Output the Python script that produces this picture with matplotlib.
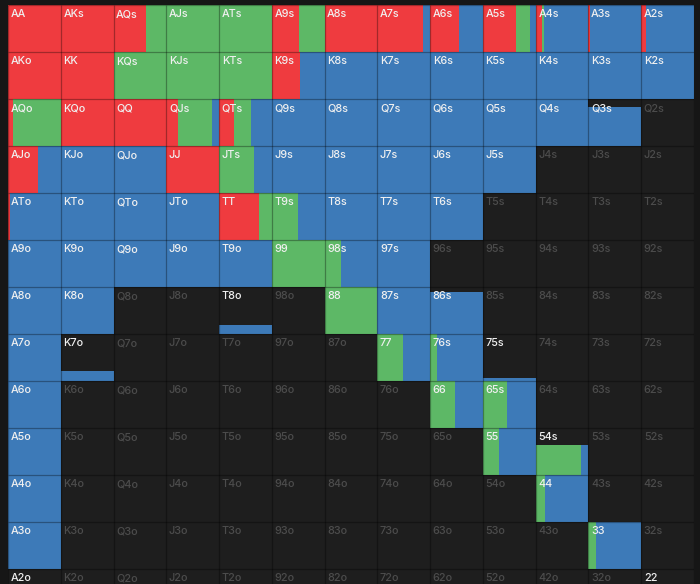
import matplotlib
matplotlib.use("Agg")
import matplotlib.pyplot as plt
from matplotlib.patches import Rectangle

RANKS = "AKQJT98765432"

# fraction of each cell's width for each action (left to right: raise, call, fold)
RAISE = [
    [1, 1, .62, 0, 0, .52, 1, .87, .55, .62, .12, .02, .09],
    [1, 1, 0, 0, 0, .53, 0, 0, 0, 0, 0, 0, 0],
    [.09, 1, 1, .22, .29, 0, 0, 0, 0, 0, 0, 0, 0],
    [.56, 0, 0, 1, 0, 0, 0, 0, 0, 0, 0, 0, 0],
    [.04, 0, 0, 0, .76, 0, 0, 0, 0, 0, 0, 0, 0],
    [0, 0, 0, 0, 0, .01, 0, 0, 0, 0, 0, 0, 0],
    [0, 0, 0, 0, 0, 0, 0, 0, 0, 0, 0, 0, 0],
    [0, 0, 0, 0, 0, 0, 0, 0, 0, 0, 0, 0, 0],
    [0, 0, 0, 0, 0, 0, 0, 0, 0, 0, 0, 0, 0],
    [0, 0, 0, 0, 0, 0, 0, 0, 0, .01, 0, 0, 0],
    [0, 0, 0, 0, 0, 0, 0, 0, 0, 0, 0, 0, 0],
    [0, 0, 0, 0, 0, 0, 0, 0, 0, 0, 0, 0, 0],
    [0, 0, 0, 0, 0, 0, 0, 0, 0, 0, 0, 0, 0],
]
CALL = [
    [0, 0, .38, 1, 1, .48, 0, 0, 0, .27, .04, 0, 0],
    [0, 0, 1, 1, 1, 0, 0, 0, 0, 0, 0, 0, 0],
    [.91, 0, 0, .64, .32, 0, 0, 0, 0, 0, 0, 0, 0],
    [0, 0, 0, 0, .66, 0, 0, 0, 0, 0, 0, 0, 0],
    [0, 0, 0, 0, .24, .49, 0, 0, 0, 0, 0, 0, 0],
    [0, 0, 0, 0, 0, .99, .31, 0, 0, 0, 0, 0, 0],
    [0, 0, 0, 0, 0, 0, 1, 0, 0, 0, 0, 0, 0],
    [0, 0, 0, 0, 0, 0, 0, .49, .13, 0, 0, 0, 0],
    [0, 0, 0, 0, 0, 0, 0, 0, .48, .46, 0, 0, 0],
    [0, 0, 0, 0, 0, 0, 0, 0, 0, .29, .85, 0, 0],
    [0, 0, 0, 0, 0, 0, 0, 0, 0, 0, .18, 0, 0],
    [0, 0, 0, 0, 0, 0, 0, 0, 0, 0, 0, .15, 0],
    [0, 0, 0, 0, 0, 0, 0, 0, 0, 0, 0, 0, .30],
]
FOLD = [
    [0, 0, 0, 0, 0, 0, 0, .13, .45, .11, .84, .98, .91],
    [0, 0, 0, 0, 0, .47, 1, 1, 1, 1, 1, 1, 1],
    [0, 0, 0, .14, .39, 1, 1, 1, 1, 1, 1, 1, 0],
    [.44, 1, 1, 0, .34, 1, 1, 1, 1, 1, 0, 0, 0],
    [.96, 1, 1, 1, 0, .51, 1, 1, 1, 0, 0, 0, 0],
    [1, 1, 1, 1, 1, 0, .69, 1, 0, 0, 0, 0, 0],
    [1, 1, 0, 0, 1, 0, 0, 1, 1, 0, 0, 0, 0],
    [1, 1, 0, 0, 0, 0, 0, .51, .87, 1, 0, 0, 0],
    [1, 0, 0, 0, 0, 0, 0, 0, .52, .54, 0, 0, 0],
    [1, 0, 0, 0, 0, 0, 0, 0, 0, .70, .15, 0, 0],
    [1, 0, 0, 0, 0, 0, 0, 0, 0, 0, .82, 0, 0],
    [1, 0, 0, 0, 0, 0, 0, 0, 0, 0, 0, .85, 0],
    [1, 0, 0, 0, 0, 0, 0, 0, 0, 0, 0, 0, .70],
]
# fraction of each cell's height that is filled (combo weight)
WEIGHT = [
    [1, 1, 1, 1, 1, 1, 1, 1, 1, 1, 1, 1, 1],
    [1, 1, 1, 1, 1, 1, 1, 1, 1, 1, 1, 1, 1],
    [1, 1, 1, 1, 1, 1, 1, 1, 1, 1, 1, .84, 0],
    [1, 1, 1, 1, 1, 1, 1, 1, 1, 1, 0, 0, 0],
    [1, 1, 1, 1, 1, 1, 1, 1, 1, 0, 0, 0, 0],
    [1, 1, 1, 1, 1, 1, 1, 1, 0, 0, 0, 0, 0],
    [1, 1, 0, 0, .20, 0, 1, 1, .89, 0, 0, 0, 0],
    [1, .21, 0, 0, 0, 0, 0, 1, 1, .07, 0, 0, 0],
    [1, 0, 0, 0, 0, 0, 0, 0, 1, 1, 0, 0, 0],
    [1, 0, 0, 0, 0, 0, 0, 0, 0, 1, .64, 0, 0],
    [1, 0, 0, 0, 0, 0, 0, 0, 0, 0, 1, 0, 0],
    [1, 0, 0, 0, 0, 0, 0, 0, 0, 0, 0, 1, 0],
    [.40, 0, 0, 0, 0, 0, 0, 0, 0, 0, 0, 0, .40],
]

COLORS = ["#EF3B3F", "#5DB866", "#3D7AB8"]
BG = "#1e1e1e"
FIG_BG = "#161616"

W, H = 700, 584
fig = plt.figure(figsize=(W / 100, H / 100), dpi=100, facecolor=FIG_BG)
left, right, top = 8, 694, 5.3
cellh = 47.0
bottom = top + 13 * cellh
ax = fig.add_axes([left / W, 1 - bottom / H, (right - left) / W, (bottom - top) / H])
ax.set_facecolor(BG)
ax.set_xlim(0, 13)
ax.set_ylim(13, 0)
ax.axis("off")
ax.add_patch(Rectangle((0, 0), 13, 13, facecolor=BG, edgecolor="none", zorder=0))

def hand(i, j):
    if i == j:
        return RANKS[i] + RANKS[j]
    if i < j:
        return RANKS[i] + RANKS[j] + "s"
    return RANKS[j] + RANKS[i] + "o"

for i in range(13):
    for j in range(13):
        w = WEIGHT[i][j]
        fr = [RAISE[i][j], CALL[i][j], FOLD[i][j]]
        tot = sum(fr)
        if w > 0 and tot > 0:
            x0 = j
            for f, c in zip(fr, COLORS):
                if f <= 0:
                    continue
                wd = f / tot
                ax.add_patch(Rectangle((x0, i + 1 - w), wd, w, facecolor=c,
                                       edgecolor="none", zorder=1))
                x0 += wd
        active = w > 0
        ax.text(j + 2.6 / 52.77, i + 12.0 / 47.0, hand(i, j),
                fontsize=7.8, family=["Inter", "DejaVu Sans"], weight="medium",
                color="#F0F0F0" if active else "#4c4c4c",
                ha="left", va="baseline", zorder=3)

for k in range(14):
    ax.plot([k, k], [0, 13], color="black", alpha=0.32, lw=0.9, zorder=2,
            solid_capstyle="butt")
    ax.plot([0, 13], [k, k], color="black", alpha=0.32, lw=0.9, zorder=2,
            solid_capstyle="butt")

fig.savefig("out.png", dpi=100, facecolor=FIG_BG)
